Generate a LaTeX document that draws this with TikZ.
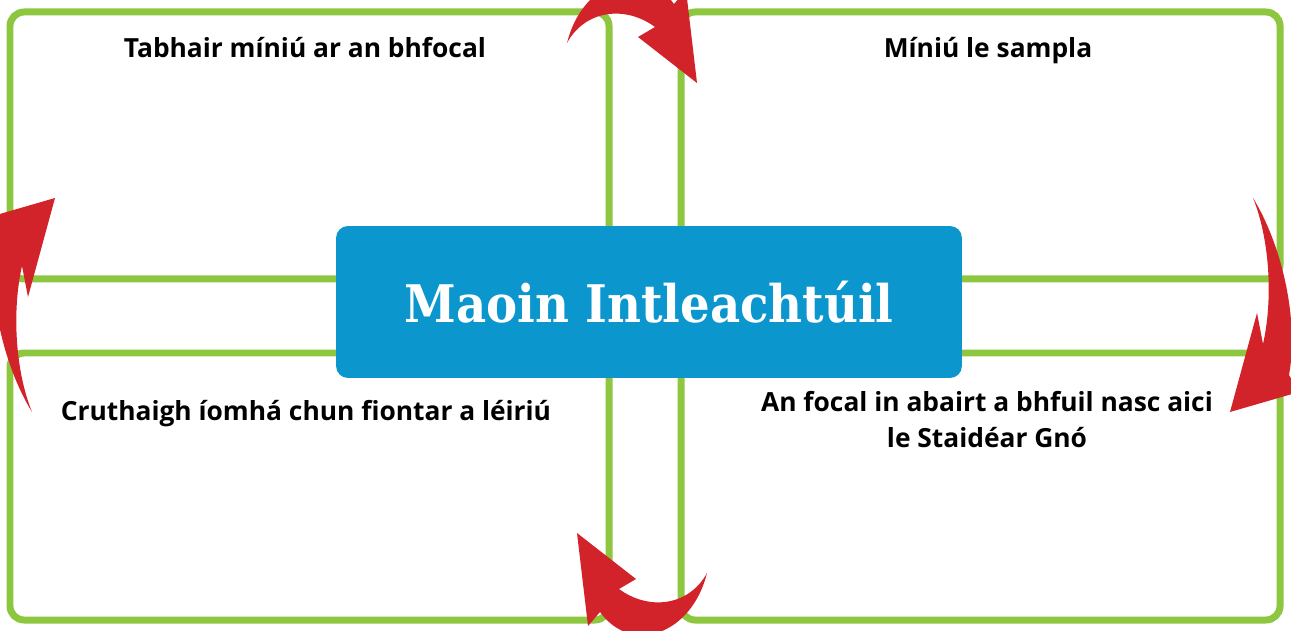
\documentclass[tikz,border=0pt]{standalone}
\usepackage{fontspec}
\setmainfont{Open Sans}
\newfontfamily\titlefont[FakeStretch=0.9]{DejaVu Serif}
\usetikzlibrary{positioning}
\definecolor{FrameGreen}{RGB}{141,198,63}
\definecolor{TitleBlue}{RGB}{11,150,206}
\definecolor{ArrowRed}{RGB}{211,35,42}
\tikzset{
  greenframe/.style={draw=FrameGreen,line width=0.14cm,rounded corners=0.28cm},
  boxtext/.style={font=\bfseries\fontsize{15}{20}\selectfont,align=center,inner sep=0pt,anchor=base},
  titlebox/.style={fill=TitleBlue,rounded corners=0.24cm,minimum width=12.52cm,minimum height=3.04cm,text=white,font=\titlefont\bfseries\fontsize{29.5}{34}\selectfont}
}

\begin{document}
\begin{tikzpicture}[x=0.02cm,y=-0.02cm]
  \useasboundingbox (0,0) rectangle (1291,631);
  \clip (0,0) rectangle (1291,631);
  % the four quarters
  \draw[greenframe] (10,12) rectangle (609,279);
  \draw[greenframe] (681,12) rectangle (1280,279);
  \draw[greenframe] (10,353) rectangle (609,620);
  \draw[greenframe] (681,353) rectangle (1280,620);
  % centre
  \node[titlebox] (title) at (649,302) {Maoin Intleachtúil};
  \node[boxtext] (define) at (305,58) {Tabhair míniú ar an bhfocal};
  \node[boxtext] (example) at (988,58) {Míniú le sampla};
  \node[boxtext] (picture) at (306,420) {Cruthaigh íomhá chun fiontar a léiriú};
  \node[boxtext] (sentence) at (987,447) {An focal in abairt a bhfuil nasc aici\\le Staidéar Gnó};
  % curved arrows, each pair turned half round
  \foreach \r in {0,180}{
    \fill[ArrowRed,rotate around={\r:(637,308)}] (567,43) .. controls (582,-18) and (642,-40) .. (674,4) -- (686,-10) -- (697,83) -- (638,37) -- (655,27) .. controls (625,5) and (585,10) .. (567,43) -- cycle;
    \fill[ArrowRed,rotate around={\r:(642.5,305)}] (32,412) .. controls (3,365) and (-14,290) .. (-4,235) -- (-14,218) -- (55,198) -- (28,297) -- (22,266) .. controls (12,310) and (15,370) .. (32,412) -- cycle;
  }
\end{tikzpicture}
\end{document}
